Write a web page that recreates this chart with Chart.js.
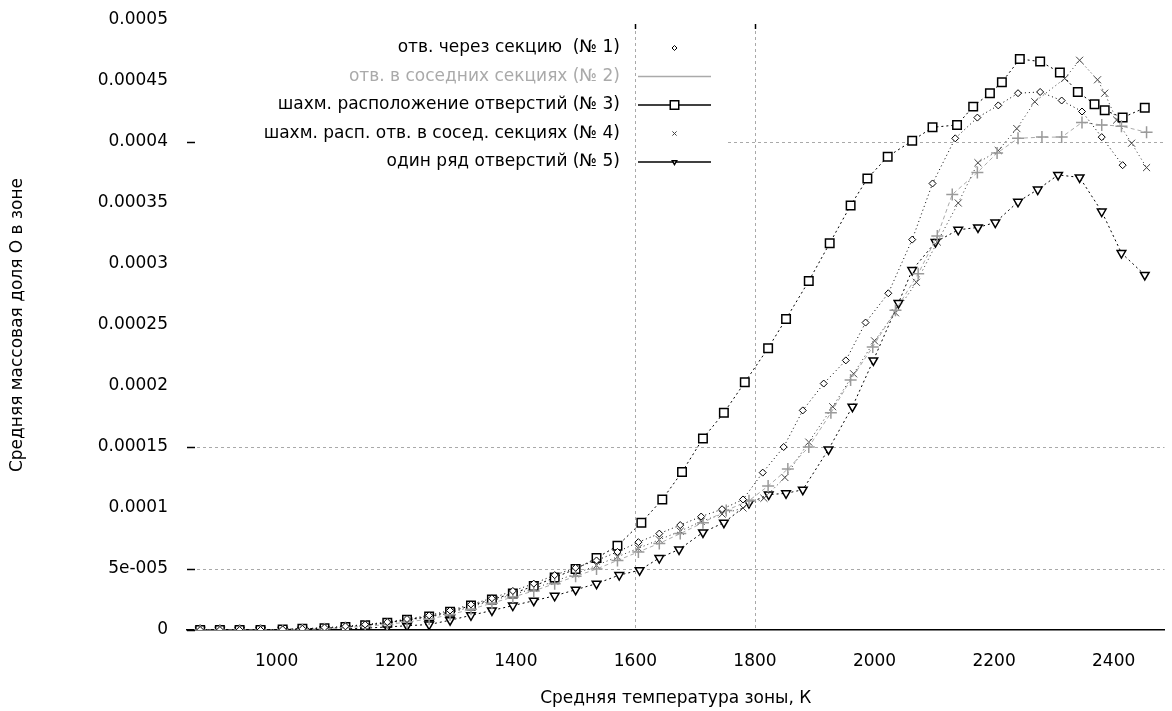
<!DOCTYPE html>
<html lang="ru">
<head>
  <meta charset="UTF-8" />
  <title>Средняя массовая доля О в зоне</title>
  <style>
    * {
      margin: 0;
      padding: 0;
      box-sizing: border-box;
    }

    body {
      background-color: #fff;
      width: 1172px;
      height: 711px;
      overflow: hidden;
    }

    .chart-box {
      position: relative;
      width: 1172px;
      height: 711px;
    }
  </style>
</head>
<body>
  <div class="chart-box">
    <canvas id="oxygenChart"></canvas>
  </div>

  <script src="https://cdn.jsdelivr.net/npm/chart.js"></script>
  <script>
    // mass fractions below are in units of 1e-5, temperatures in K
    const seriesNames = [
      "отв. через секцию  (№ 1)",
      "отв. в соседних секциях (№ 2)",
      "шахм. расположение отверстий (№ 3)",
      "шахм. расп. отв. в сосед. секциях (№ 4)",
      "один ряд отверстий (№ 5)"
    ];

    const temp1 = [872, 905, 938, 973, 1010, 1043, 1080, 1115, 1148, 1185, 1218, 1255, 1290, 1325, 1360, 1395, 1430, 1465, 1500, 1535,
      1570, 1605, 1640, 1675, 1710, 1745, 1780, 1813, 1848, 1880, 1915, 1952, 1985, 2023, 2063, 2097, 2135, 2172, 2207, 2240, 2277, 2313, 2347, 2380, 2415];
    const mass1 = [0, 0, 0, 0, 0.05, 0.1, 0.2, 0.3, 0.45, 0.65, 0.9, 1.2, 1.6, 2.1, 2.6, 3.2, 3.8, 4.5, 5.1, 5.7,
      6.4, 7.2, 7.9, 8.6, 9.3, 9.9, 10.7, 12.9, 15.0, 18.0, 20.2, 22.1, 25.2, 27.6, 32.0, 36.6, 40.3, 42.0, 43.0, 44.0, 44.1, 43.4, 42.5, 40.4, 38.1];

    const temp2 = [872, 905, 938, 973, 1010, 1043, 1080, 1115, 1148, 1185, 1218, 1255, 1290, 1325, 1360, 1395, 1430, 1465, 1500, 1535,
      1570, 1605, 1640, 1675, 1713, 1752, 1790, 1822, 1855, 1890, 1927, 1960, 1997, 2035, 2073, 2105, 2130, 2172, 2205, 2240, 2280, 2313, 2347, 2380, 2413, 2455];
    const mass2 = [0, 0, 0, 0, 0, 0.05, 0.1, 0.2, 0.3, 0.45, 0.65, 0.9, 1.25, 1.7, 2.2, 2.7, 3.2, 3.8, 4.4, 5.0,
      5.7, 6.4, 7.1, 7.9, 8.8, 9.8, 10.6, 11.8, 13.2, 15.0, 17.8, 20.5, 23.2, 26.2, 29.2, 32.3, 35.7, 37.5, 39.1, 40.3, 40.4, 40.4, 41.6, 41.4, 41.3, 40.8];

    const temp3 = [872, 905, 938, 973, 1010, 1043, 1080, 1115, 1148, 1185, 1218, 1255, 1290, 1325, 1360, 1395, 1430, 1465, 1500, 1535,
      1570, 1610, 1645, 1678, 1713, 1748, 1783, 1822, 1852, 1890, 1925, 1960, 1988, 2022, 2063, 2097, 2138, 2165, 2193, 2213, 2243, 2277, 2310, 2340, 2368, 2385, 2415, 2452];
    const mass3 = [0, 0, 0, 0, 0.05, 0.1, 0.15, 0.25, 0.4, 0.6, 0.85, 1.1, 1.5, 2.0, 2.5, 3.0, 3.6, 4.3, 5.0, 5.9,
      6.9, 8.8, 10.7, 12.95, 15.7, 17.8, 20.3, 23.1, 25.5, 28.6, 31.7, 34.8, 37.0, 38.8, 40.1, 41.2, 41.4, 42.9, 44.0, 44.9, 46.8, 46.6, 45.7, 44.1, 43.1, 42.6, 42.0, 42.8];

    const temp4 = [872, 905, 938, 973, 1010, 1043, 1080, 1115, 1148, 1185, 1218, 1255, 1290, 1325, 1360, 1395, 1430, 1465, 1500, 1535,
      1570, 1605, 1640, 1675, 1710, 1745, 1780, 1815, 1850, 1890, 1930, 1965, 2000, 2035, 2070, 2105, 2140, 2173, 2207, 2238, 2268, 2318, 2343, 2373, 2385, 2405, 2430, 2455];
    const mass4 = [0, 0, 0, 0, 0.05, 0.1, 0.15, 0.25, 0.4, 0.55, 0.8, 1.05, 1.4, 1.9, 2.4, 2.9, 3.4, 4.0, 4.6, 5.3,
      6.0, 6.7, 7.4, 8.1, 8.9, 9.5, 10.0, 10.8, 12.5, 15.4, 18.3, 21.0, 23.7, 26.0, 28.5, 31.8, 35.0, 38.3, 39.3, 41.1, 43.3, 45.2, 46.7, 45.1, 44.0, 41.8, 39.9, 37.9];

    const temp5 = [872, 905, 938, 973, 1010, 1043, 1080, 1115, 1148, 1185, 1218, 1255, 1290, 1325, 1360, 1395, 1430, 1465, 1500, 1535,
      1573, 1607, 1640, 1673, 1713, 1748, 1790, 1823, 1852, 1880, 1923, 1963, 1998, 2040, 2063, 2102, 2140, 2173, 2202, 2240, 2273, 2307, 2343, 2380, 2413, 2452];
    const mass5 = [0, 0, 0, 0, 0, 0, 0.05, 0.1, 0.15, 0.25, 0.35, 0.45, 0.8, 1.2, 1.6, 2.0, 2.4, 2.8, 3.3, 3.8,
      4.5, 4.9, 5.9, 6.6, 8.0, 8.8, 10.4, 11.1, 11.2, 11.5, 14.8, 18.3, 22.1, 26.8, 29.5, 31.8, 32.8, 33.0, 33.4, 35.1, 36.1, 37.3, 37.1, 34.3, 30.9, 29.1];

    const xTickValues = [1000, 1200, 1400, 1600, 1800, 2000, 2200, 2400];
    const yTickValues = [0, 5, 10, 15, 20, 25, 30, 35, 40, 45, 50];
    const yTickLabels = ["0", "5e-005", "0.0001", "0.00015", "0.0002", "0.00025", "0.0003", "0.00035", "0.0004", "0.00045", "0.0005"];

    // only these grid lines / tick marks survive in the original picture
    const xGridShown = [1600, 1800];
    const yGridShown = [5, 15];
    const yGridPartial = [40];
    const yTickMarks = [0, 5, 15, 40];

    const toPoints = (temps, masses) => temps.map((t, i) => ({ x: t, y: masses[i] }));

    Chart.defaults.font.family = "'DejaVu Sans', sans-serif";
    Chart.defaults.font.size = 17;
    Chart.defaults.color = "#000";

    const sparseGrid = {
      id: "sparseGrid",
      beforeDatasetsDraw(chart) {
        const { ctx, chartArea: area, scales: { x, y } } = chart;
        const line = (x1, y1, x2, y2) => {
          ctx.beginPath();
          ctx.moveTo(x1, y1);
          ctx.lineTo(x2, y2);
          ctx.stroke();
        };
        ctx.save();
        ctx.strokeStyle = "#a9a9a9";
        ctx.lineWidth = 1;
        ctx.setLineDash([3, 3]);
        xGridShown.forEach(v => {
          const px = Math.round(x.getPixelForValue(v)) + 0.5;
          line(px, area.top + 5, px, area.bottom);
        });
        yGridShown.forEach(v => {
          const py = Math.round(y.getPixelForValue(v)) + 0.5;
          line(area.left + 10, py, area.right, py);
        });
        yGridPartial.forEach(v => {
          const py = Math.round(y.getPixelForValue(v)) + 0.5;
          line(728, py, area.right, py);
        });
        ctx.setLineDash([]);
        ctx.strokeStyle = "#000";
        ctx.lineWidth = 1.5;
        yTickMarks.forEach(v => {
          const py = Math.round(y.getPixelForValue(v)) + 0.5;
          line(area.left, py, area.left + 8, py);
        });
        xGridShown.forEach(v => {
          const px = Math.round(x.getPixelForValue(v)) + 0.5;
          line(px, area.top + 4, px, area.top + 9);
        });
        ctx.restore();
      }
    };

    const keyBox = {
      id: "keyBox",
      afterDraw(chart) {
        const ctx = chart.ctx;
        const textRight = 620, lineLeft = 638, lineRight = 711, firstRow = 48, rowStep = 28.5;
        chart.data.datasets.forEach((ds, i) => {
          const yRow = firstRow + i * rowStep;
          ctx.save();
          ctx.font = "17px 'DejaVu Sans'";
          ctx.textAlign = "right";
          ctx.textBaseline = "middle";
          ctx.fillStyle = ds.keyText;
          ctx.fillText(ds.label, textRight, yRow);
          if (ds.keyLine) {
            ctx.strokeStyle = ds.borderColor;
            ctx.lineWidth = 1.5;
            ctx.beginPath();
            ctx.moveTo(lineLeft, yRow);
            ctx.lineTo(lineRight, yRow);
            ctx.stroke();
          }
          if (ds.keyRadius) {
            ctx.strokeStyle = ds.pointBorderColor;
            ctx.fillStyle = ds.pointBackgroundColor;
            Chart.helpers.drawPoint(ctx, {
              pointStyle: ds.pointStyle,
              radius: ds.keyRadius,
              rotation: ds.pointRotation || 0,
              borderWidth: 1
            }, (lineLeft + lineRight) / 2, yRow);
          }
          ctx.restore();
        });
      }
    };

    const ctx = document.getElementById("oxygenChart").getContext("2d");
    new Chart(ctx, {
      type: "scatter",
      data: {
        datasets: [
          {
            label: seriesNames[0],
            data: toPoints(temp1, mass1),
            showLine: true,
            borderColor: "#000",
            borderWidth: 1,
            borderDash: [1, 3],
            pointStyle: "rectRot",
            pointRadius: 3.5,
            pointBorderColor: "#000",
            pointBackgroundColor: "#fff",
            pointBorderWidth: 1,
            keyText: "#000",
            keyLine: false,
            keyRadius: 2.5
          },
          {
            label: seriesNames[1],
            data: toPoints(temp2, mass2),
            showLine: true,
            borderColor: "#aaa",
            borderWidth: 1,
            borderDash: [4, 3],
            pointStyle: "cross",
            pointRadius: 6,
            pointBorderColor: "#9a9a9a",
            pointBackgroundColor: "#fff",
            pointBorderWidth: 1.5,
            keyText: "#aaa",
            keyLine: true,
            keyRadius: 0
          },
          {
            label: seriesNames[2],
            data: toPoints(temp3, mass3),
            showLine: true,
            borderColor: "#000",
            borderWidth: 1,
            borderDash: [2, 3],
            pointStyle: "rect",
            pointRadius: 6,
            pointBorderColor: "#000",
            pointBackgroundColor: "#fff",
            pointBorderWidth: 1.5,
            keyText: "#000",
            keyLine: true,
            keyRadius: 6
          },
          {
            label: seriesNames[3],
            data: toPoints(temp4, mass4),
            showLine: true,
            borderColor: "#333",
            borderWidth: 1,
            borderDash: [1, 3],
            pointStyle: "crossRot",
            pointRadius: 5,
            pointBorderColor: "#444",
            pointBackgroundColor: "#fff",
            pointBorderWidth: 1,
            keyText: "#000",
            keyLine: false,
            keyRadius: 3
          },
          {
            label: seriesNames[4],
            data: toPoints(temp5, mass5),
            showLine: true,
            borderColor: "#000",
            borderWidth: 1,
            borderDash: [2, 3],
            pointStyle: "triangle",
            pointRotation: 180,
            pointRadius: 5,
            pointBorderColor: "#000",
            pointBackgroundColor: "#fff",
            pointBorderWidth: 1.5,
            keyText: "#000",
            keyLine: true,
            keyRadius: 2.5
          }
        ]
      },
      options: {
        responsive: true,
        maintainAspectRatio: false,
        animation: false,
        layout: { padding: { top: 20, right: 0, bottom: 0, left: 0 } },
        plugins: {
          legend: { display: false },
          tooltip: { enabled: false }
        },
        scales: {
          x: {
            type: "linear",
            min: 850,
            max: 2485,
            afterBuildTicks: scale => {
              scale.ticks = xTickValues.map(v => ({ value: v }));
            },
            afterFit: scale => {
              scale.height = 81;
              scale.paddingLeft = 0;
              scale.paddingRight = 0;
            },
            ticks: {
              padding: 21,
              maxRotation: 0,
              callback: value => String(value)
            },
            grid: { display: false, drawTicks: false },
            border: { display: true, color: "#000", width: 1.5 },
            title: {
              display: true,
              text: "Средняя температура зоны, К",
              font: { size: 17 },
              padding: { top: 0, bottom: 2 }
            }
          },
          y: {
            type: "linear",
            min: 0,
            max: 50,
            afterBuildTicks: scale => {
              scale.ticks = yTickValues.map(v => ({ value: v }));
            },
            afterFit: scale => {
              scale.width = 187;
              scale.paddingTop = 0;
              scale.paddingBottom = 0;
            },
            ticks: {
              padding: 19,
              callback: value => yTickLabels[yTickValues.indexOf(value)]
            },
            grid: { display: false, drawTicks: false },
            border: { display: false },
            title: {
              display: true,
              text: "Средняя массовая доля О в зоне",
              font: { size: 17 },
              padding: { top: 7, bottom: 0 }
            }
          }
        }
      },
      plugins: [sparseGrid, keyBox]
    });
  </script>
</body>
</html>
